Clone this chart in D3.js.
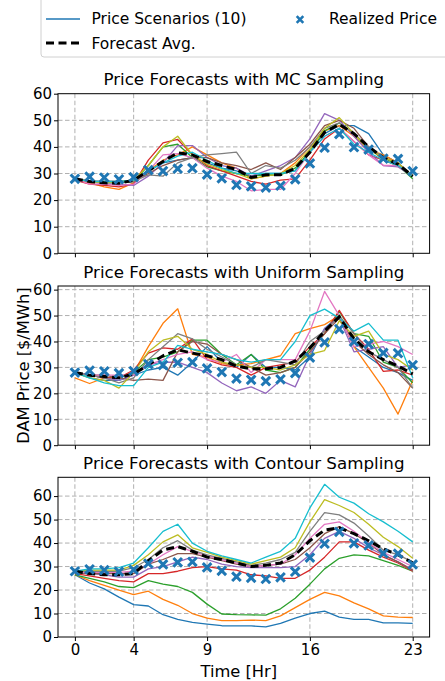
<!DOCTYPE html>
<html>
<head>
<meta charset="utf-8">
<script src="https://cdn.jsdelivr.net/npm/d3@7"></script>
<style>
  html, body { margin: 0; padding: 0; background: #fff; }
  svg { display: block; }
  text { font-family: "DejaVu Sans", sans-serif; fill: #000; }
</style>
</head>
<body>
<svg id="chart" width="445" height="681"></svg>
<script>
// ---------------- DATA ----------------
const hours = d3.range(0, 24);
const xTickValues = [0, 4, 9, 16, 23];
const yTickValues = [0, 10, 20, 30, 40, 50, 60];
const scenarioColors = ["#1f77b4", "#ff7f0e", "#2ca02c", "#d62728", "#9467bd",
                        "#8c564b", "#e377c2", "#7f7f7f", "#bcbd22", "#17becf"];
const panelTitles = ["Price Forecasts with MC Sampling",
                     "Price Forecasts with Uniform Sampling",
                     "Price Forecasts with Contour Sampling"];
const panelYMax = [60, 61.4, 68];

const realizedPrice = [28, 28.8, 28.5, 27.8, 28.6, 31.3, 30.9, 31.8, 32, 29.6, 28.2, 25.7,
                       25.2, 24.7, 25.4, 27.8, 33.8, 39.7, 44.8, 39.9, 39, 35.6, 35.5, 30.9];

// MC sampling scenarios (blue, orange, green, red, purple, brown, pink, gray, olive, cyan)
const mcBlue   = [28, 27, 27, 26.5, 27.5, 31, 34, 35, 36, 34, 32, 31, 29, 30, 30, 31, 39, 45, 48, 48, 45, 37, 34, 29];
const mcOrange = [27.5, 26.5, 25, 24, 26.5, 31, 35, 37, 40, 37, 34, 32, 28, 29, 30, 34, 40, 46, 48, 44, 39, 37, 34, 29];
const mcGreen  = [28, 27, 26.5, 26.5, 27, 33, 40, 41, 36, 32.5, 31, 30, 29, 29.5, 29.5, 32, 38, 46, 49, 45, 39, 36, 33, 28];
const mcRed    = [27.5, 26, 25.5, 25, 26, 35, 41.5, 42.8, 37, 33, 31, 29, 27, 26, 27.5, 28, 35, 43, 47, 42, 37, 35, 33, 29];
const mcPurple = [28, 27, 26, 26, 25.5, 29, 34, 40.5, 40.5, 36, 33, 32, 29, 31, 33, 36, 43, 52.5, 50, 44, 38, 33, 32.5, 29];
const mcBrown  = [28, 27, 27, 27, 27, 30, 33, 35, 36, 36, 34, 33, 31.5, 34, 31.5, 36, 41, 48, 50, 47, 40, 35, 33, 29];
const mcPink   = [28, 26, 26, 25.5, 26, 31, 37, 37.5, 36, 32, 29, 27, 23.5, 24, 24, 30, 38, 44, 47, 42, 37, 33, 33, 29];
const mcGray   = [28, 27, 27, 27, 27, 29.5, 29, 34, 36, 37, 37.5, 38, 30, 33, 32, 35, 40, 47, 49, 45, 40, 36, 34, 29];
const mcOlive  = [28, 27, 26.5, 27, 27.5, 33, 40, 44, 37, 33.5, 31.5, 30, 28, 29, 30, 33, 39, 47, 51, 45, 39, 36, 34, 29];
const mcCyan   = [28, 27, 27, 27, 27.5, 31, 34, 36.5, 38, 35, 32, 30, 30, 30, 30, 31, 38, 44, 47, 41, 38, 35, 33, 29];
const mcAvg    = [28, 27, 26.5, 26.3, 27.5, 31, 34.5, 37.8, 37, 34.5, 33, 31.5, 28.5, 29.5, 29.5, 32, 38, 45.5, 48.5, 45, 40, 36, 33.5, 29];

// Uniform sampling scenarios
const unBlue   = [28, 26, 25, 25, 27, 29, 30, 27, 32, 38, 32, 30, 35, 30, 30, 29, 34, 45, 50, 38, 34, 30, 28, 25];
const unOrange = [26, 23.8, 26, 26, 28, 38, 47, 52.6, 35, 34, 31.5, 31, 31.5, 33, 34.5, 43, 45, 46.5, 50, 38, 30, 22, 12, 25];
const unGreen  = [28, 27, 26, 26, 28, 33, 34, 36, 40.5, 40.5, 35, 31, 35, 29, 28, 30, 37, 43, 51.5, 43, 42, 32, 30, 24];
const unRed    = [28, 27, 26, 26, 29, 35.5, 37.5, 37, 41, 33, 31, 30, 27, 30, 31, 32, 38, 43, 52, 43, 37, 28.5, 29, 27];
const unPurple = [28, 27, 26, 25, 27, 31, 32, 32, 30, 28, 24, 21, 22.5, 20, 25, 22.5, 35, 45, 49, 36, 37, 38, 30, 31];
const unBrown  = [28, 27, 27, 26, 25, 25.5, 25, 36, 40, 39, 35, 33, 30, 27, 28, 30, 36, 43, 49, 40, 35, 31, 28, 22];
const unPink   = [28, 27, 27, 27, 27, 31, 33, 35, 36, 33, 32, 35, 28, 33, 33, 33, 44, 59.3, 50, 38, 39, 40, 38, 35];
const unGray   = [28, 27, 26, 24, 26, 33, 38, 43, 41, 37, 34, 31, 30, 33, 32, 31, 40, 44, 50, 43, 36, 33, 30, 22];
const unOlive  = [28, 26, 25, 22, 28, 36, 40.5, 42, 37, 35, 32, 31, 30, 30, 29, 31, 35, 36.5, 48, 42, 44, 35, 33, 29];
const unCyan   = [28, 26, 24, 23, 23, 30, 32, 38.5, 37, 36, 35, 33, 32, 33, 33, 40, 50, 52.5, 49, 44, 47, 40.5, 40.5, 26];
const unAvg    = [28, 27, 26.5, 26, 27.5, 31, 34.5, 36.8, 35.5, 34.5, 33, 30.5, 29.5, 29.5, 30, 32.5, 37.5, 44, 49.5, 41, 36, 33, 30.5, 27.5];

// Contour sampling scenarios
const ctBlue   = [26.5, 23, 20.5, 17, 13.8, 13.2, 9.5, 7.5, 6.2, 5.5, 4.8, 4.7, 4.7, 4.3, 5.8, 8, 10, 11, 8.5, 7.5, 7.5, 6, 6, 5.8];
const ctOrange = [26.5, 24, 22, 20, 18, 19.5, 16, 13.5, 10, 8, 7, 7, 7.2, 7, 9, 12.5, 16, 19, 17.5, 14.5, 12, 9, 8.5, 8.3];
const ctGreen  = [26.5, 25, 23.5, 21.5, 21, 24, 22.5, 21.5, 19, 14, 9.8, 9.5, 9.4, 9.3, 12, 16.5, 22.5, 29, 33.5, 35, 34.5, 32.5, 30.5, 28];
const ctRed    = [27, 26, 25, 24, 23.5, 27, 27, 28, 29.5, 30, 29, 28.5, 26.5, 26, 25, 25, 28.5, 34, 40.5, 40.5, 37, 34, 31.5, 28];
const ctPurple = [27.5, 27, 26.5, 25.5, 25.5, 29, 30, 32, 34, 33, 31, 30, 29.5, 29.5, 29.5, 30, 35, 42, 45, 42, 38, 35, 32, 28.5];
const ctBrown  = [27.5, 27, 27, 27, 27, 31, 33, 35.5, 35.5, 34, 32.5, 31, 30, 30.5, 31, 33, 38, 44, 47, 44, 40, 35, 32, 28.5];
const ctPink   = [27.5, 27.5, 27.5, 27.5, 28, 31, 35, 38.5, 36.5, 34.5, 33, 31.5, 30, 30.5, 31, 35, 42, 48, 49, 45, 40, 36, 33, 30];
const ctGray   = [28, 28, 28, 28, 29.5, 33, 38, 41, 37, 35, 33.5, 32, 30.5, 31.5, 33, 36, 45, 53, 52, 48.5, 43, 37, 35, 32];
const ctOlive  = [28, 28.5, 28.5, 28.5, 30.5, 35, 40.5, 43.5, 38, 36, 34, 32.5, 31, 32.5, 34, 38, 49, 58.5, 56, 53, 48, 42.5, 38.5, 33.5];
const ctCyan   = [28, 29, 29, 29.5, 31.5, 38, 45, 48, 40, 36.5, 34.5, 33, 31.5, 34, 36.5, 42, 55, 65, 59.5, 57, 52.5, 49, 45, 40.5];
const ctAvg    = [28, 27, 26.5, 26.5, 27, 32.5, 37, 38.5, 36.5, 34, 33, 31.5, 30, 30.5, 31.5, 35, 41, 45.5, 46.5, 44, 41, 37.5, 35, 31.5];

const panelScenarios = [
  [mcBlue, mcOrange, mcGreen, mcRed, mcPurple, mcBrown, mcPink, mcGray, mcOlive, mcCyan],
  [unBlue, unOrange, unGreen, unRed, unPurple, unBrown, unPink, unGray, unOlive, unCyan],
  [ctBlue, ctOrange, ctGreen, ctRed, ctPurple, ctBrown, ctPink, ctGray, ctOlive, ctCyan]
];
const panelAvg = [mcAvg, unAvg, ctAvg];

// ---------------- LAYOUT ----------------
const svg = d3.select("#chart");
const left = 58, right = 429.6;
const panelTops = [93.7, 286, 477.3];
const panelBottoms = [253.3, 445.2, 637];
const TICK_FONT = 15, TITLE_FONT = 16.7, LABEL_FONT = 16.3, LEGEND_FONT = 15.5;

const x = d3.scaleLinear().domain([-1.15, 24.15]).range([left, right]);

function cross(g, cx, cy, r, sw) {
  g.append("path")
    .attr("d", `M${cx - r},${cy - r}L${cx + r},${cy + r}M${cx - r},${cy + r}L${cx + r},${cy - r}`)
    .attr("stroke", "#1f77b4").attr("stroke-width", sw).attr("fill", "none");
}

panelTops.forEach((top, p) => {
  const bottom = panelBottoms[p];
  const y = d3.scaleLinear().domain([0, panelYMax[p]]).range([bottom, top]);
  const g = svg.append("g");
  const clipId = "clip" + p;
  svg.append("clipPath").attr("id", clipId).append("rect")
    .attr("x", left).attr("y", top).attr("width", right - left).attr("height", bottom - top);

  // grid
  const grid = g.append("g").attr("stroke", "#b0b0b0").attr("stroke-width", 1)
    .attr("stroke-dasharray", "4.5,2.5");
  xTickValues.forEach(t => grid.append("line")
    .attr("x1", x(t)).attr("x2", x(t)).attr("y1", top).attr("y2", bottom));
  yTickValues.forEach(t => {
    if (y(t) > top + 0.5 && y(t) < bottom - 0.5)
      grid.append("line").attr("x1", left).attr("x2", right).attr("y1", y(t)).attr("y2", y(t));
  });

  const plot = g.append("g").attr("clip-path", `url(#${clipId})`);
  const line = d3.line().x((d, i) => x(hours[i])).y(d => y(d));

  panelScenarios[p].forEach((s, i) => {
    plot.append("path").attr("d", line(s)).attr("fill", "none")
      .attr("stroke", scenarioColors[i]).attr("stroke-width", 1.3)
      .attr("stroke-linejoin", "round");
  });
  plot.append("path").attr("d", line(panelAvg[p])).attr("fill", "none")
    .attr("stroke", "#000").attr("stroke-width", 3).attr("stroke-dasharray", "8,4.5");
  realizedPrice.forEach((v, i) => cross(g, x(hours[i]), y(v), 4.3, 3));

  // frame
  g.append("rect").attr("x", left).attr("y", top).attr("width", right - left)
    .attr("height", bottom - top).attr("fill", "none").attr("stroke", "#000").attr("stroke-width", 1);

  // y axis
  const yAxis = d3.axisLeft(y).tickValues(yTickValues).tickSize(4).tickPadding(2).tickFormat(d3.format("d"));
  const ya = g.append("g").attr("transform", `translate(${left},0)`).call(yAxis);
  ya.select(".domain").remove();
  ya.selectAll("text").attr("font-size", TICK_FONT).attr("font-family", "DejaVu Sans").attr("fill", "#000");
  ya.selectAll("line").attr("stroke", "#000");

  // x axis
  const xAxis = d3.axisBottom(x).tickValues(xTickValues).tickSize(4).tickPadding(3)
    .tickFormat(p === 2 ? d3.format("d") : () => "");
  const xa = g.append("g").attr("transform", `translate(0,${bottom})`).call(xAxis);
  xa.select(".domain").remove();
  xa.selectAll("text").attr("font-size", TICK_FONT).attr("font-family", "DejaVu Sans").attr("fill", "#000");
  xa.selectAll("line").attr("stroke", "#000");

  // title
  g.append("text").attr("x", (left + right) / 2).attr("y", top - (p === 0 ? 8.7 : 8))
    .attr("text-anchor", "middle").attr("font-size", TITLE_FONT).text(panelTitles[p]);
});

// axis labels
svg.append("text").attr("x", (left + right) / 2 - 5).attr("y", 676.5)
  .attr("text-anchor", "middle").attr("font-size", LABEL_FONT).text("Time [Hr]");
svg.append("text").attr("transform", `translate(29,${(panelTops[1] + panelBottoms[1]) / 2}) rotate(-90)`)
  .attr("text-anchor", "middle").attr("font-size", LABEL_FONT).text("DAM Price [$/MWh]");

// legend
const lg = svg.append("g");
lg.append("rect").attr("x", 41).attr("y", -6).attr("width", 430).attr("height", 63).attr("rx", 3)
  .attr("fill", "#fff").attr("stroke", "#d0d0d0").attr("stroke-width", 1);
lg.append("line").attr("x1", 46).attr("x2", 80).attr("y1", 19).attr("y2", 19)
  .attr("stroke", "#1f77b4").attr("stroke-width", 1.3);
lg.append("text").attr("x", 91.5).attr("y", 24.3).attr("font-size", LEGEND_FONT).text("Price Scenarios (10)");
lg.append("line").attr("x1", 46).attr("x2", 80).attr("y1", 43).attr("y2", 43)
  .attr("stroke", "#000").attr("stroke-width", 3).attr("stroke-dasharray", "8,4.5");
lg.append("text").attr("x", 91.5).attr("y", 48.5).attr("font-size", LEGEND_FONT).text("Forecast Avg.");
cross(lg, 300, 19.5, 3.3, 2.6);
lg.append("text").attr("x", 329).attr("y", 24.3).attr("font-size", LEGEND_FONT).text("Realized Price");
</script>
</body>
</html>
